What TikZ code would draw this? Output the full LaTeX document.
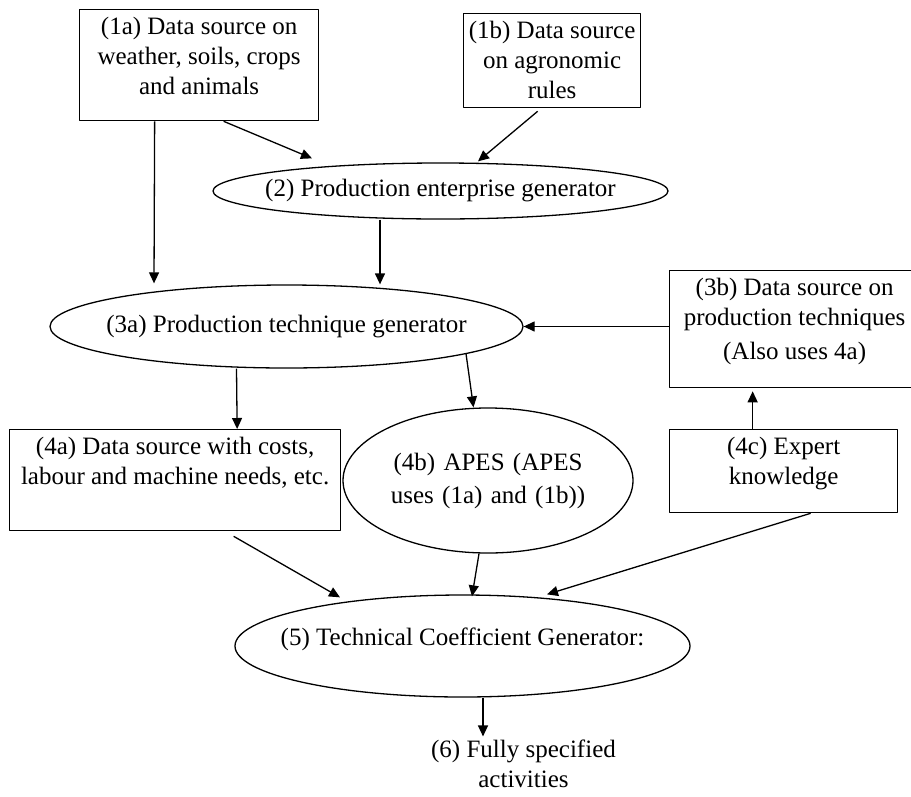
\documentclass[tikz,border=0pt]{standalone}
\usepackage{fontspec}
\setmainfont{Liberation Serif}
\usetikzlibrary{shapes.geometric,arrows.meta}

\tikzset{
	databox/.style={draw, inner sep=0pt, anchor=north west},
	genellipse/.style={draw, ellipse, inner xsep=-40pt, inner ysep=0pt, align=center},
}
\newcommand{\boxlines}[3]{\parbox[t][#2][t]{#1}{\centering\rule{0pt}{25pt}#3}}

\begin{document}
\begin{tikzpicture}[x=1pt, y=-1pt, >={Triangle[length=11pt,width=10pt]}, font=\fontsize{25}{30}\selectfont, line width=1.3pt, line join=round]
					\useasboundingbox (0,0) rectangle (911,796);
					\node[databox] (src1a) at (79,9) {\boxlines{239pt}{111pt}{(1a) Data source on\\weather, soils, crops\\and animals}};
					\node[databox] (src1b) at (463,13) {\boxlines{177pt}{94pt}{(1b) Data source\\on agronomic\\rules}};
					\node[genellipse, minimum width=455pt, minimum height=56pt] (gen2) at (440.5,191) {(2) Production enterprise generator};
					\node[genellipse, minimum width=473pt, minimum height=83pt] (tech3a) at (286.5,326.5) {(3a) Production technique generator};
					\node[databox] (src3b) at (669,270) {\boxlines{250pt}{117pt}{(3b) Data source on\\production techniques\\[4pt](Also uses 4a)}};
					\node[databox] (src4a) at (9,429) {\boxlines{331pt}{101pt}{(4a) Data source with costs,\\labour and machine needs, etc.}};
					\node[genellipse, minimum width=290pt, minimum height=145pt, text width=240pt] (apes4b) at (488,480.5) {(4b) APES (APES\\[3pt]uses (1a) and (1b))};
					\node[databox] (src4c) at (669,429) {\boxlines{228pt}{83pt}{(4c) Expert\\knowledge}};
					\node[genellipse, minimum width=455pt, minimum height=102pt, text depth=18pt] (coef5) at (462.5,646) {(5) Technical Coefficient Generator:};
					\node[align=center, inner sep=0pt] (activ6) at (523.5,764) {(6) Fully specified\\activities};
					% arrows
					\draw[->] ([xshift=24.5pt]src1a.south) -- ([xshift=-128.5pt,yshift=4pt]gen2.north);
					\draw[->] ([xshift=-44.5pt]src1a.south) -- ([xshift=-132.5pt,yshift=1pt]tech3a.north);
					\draw[->] ([xshift=-14.5pt,yshift=-3pt]src1b.south) -- ([xshift=37.5pt,yshift=1pt]gen2.north);
					\draw[->] ([xshift=-60.5pt]gen2.south) -- ([xshift=93.5pt]tech3a.north);
					\draw[->] (src3b.west |- tech3a.east) -- (tech3a.east);
					\draw[->] ([xshift=-50pt]tech3a.south) -- ([xshift=62pt]src4a.north);
					\draw[->] ([xshift=179.5pt,yshift=15pt]tech3a.south) -- ([xshift=-14.5pt]apes4b.north);
					\draw[->] ([xshift=-31pt]src4c.north) -- ([xshift=-42pt,yshift=-3pt]src3b.south);
					\draw[->] ([xshift=58.5pt,yshift=-5pt]src4a.south) -- ([xshift=-122.5pt,yshift=-3pt]coef5.north);
					\draw[->] ([xshift=-9pt]apes4b.south) -- ([xshift=9.5pt,yshift=-2pt]coef5.north);
					\draw[->] ([xshift=27pt]src4c.south) -- ([xshift=84.5pt]coef5.north);
					\draw[->] ([xshift=20.5pt]coef5.south) -- ([xshift=-40.5pt,yshift=3pt]activ6.north);
			\end{tikzpicture}
\end{document}
